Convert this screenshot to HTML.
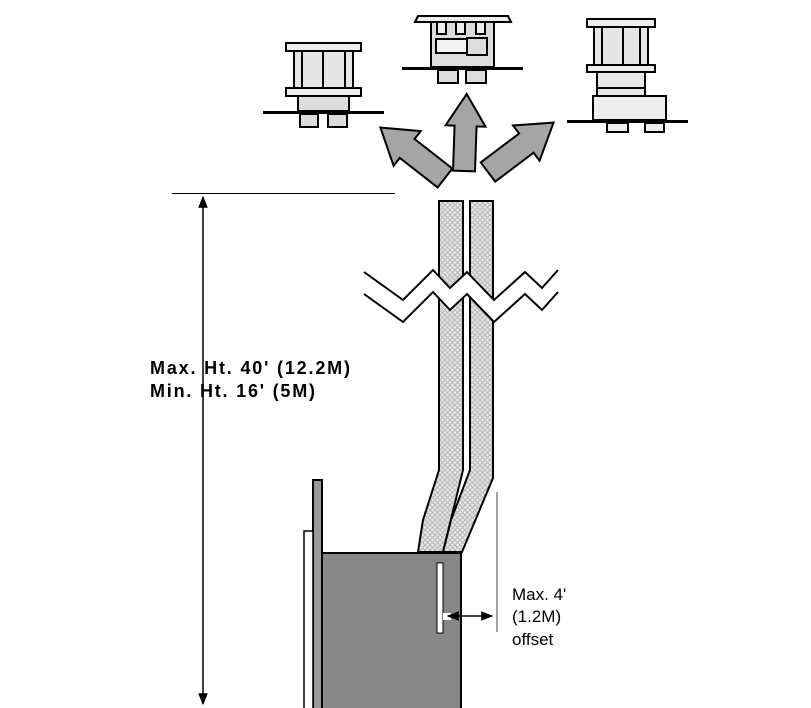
<!DOCTYPE html>
<html><head><meta charset="utf-8"><style>body{margin:0;background:#fff}svg{display:block}</style></head><body>
<svg width="811" height="708" viewBox="0 0 811 708" xmlns="http://www.w3.org/2000/svg">
<defs>
<pattern id="hx" width="5" height="5" patternUnits="userSpaceOnUse">
<rect width="5" height="5" fill="#e8e8e8"/><path d="M0 0L5 5M5 0L0 5" stroke="#b8b8b8" stroke-width="1"/>
</pattern>
<marker id="ah" viewBox="0 0 10 10" refX="9" refY="5" markerWidth="8" markerHeight="8" orient="auto-start-reverse"><path d="M0 1L10 5L0 9z" fill="#000"/></marker>
</defs>
<g stroke="#000" stroke-width="2">
<rect x="286" y="43" width="75" height="8" fill="#eee"/>
<rect x="294" y="51" width="59" height="37" fill="#e6e6e6"/>
<line x1="302" y1="51" x2="302" y2="88"/><line x1="323" y1="51" x2="323" y2="88"/><line x1="345" y1="51" x2="345" y2="88"/>
<rect x="286" y="88" width="75" height="8" fill="#eee"/>
<rect x="298" y="96" width="51" height="15" fill="#ddd"/>
<rect x="300" y="114" width="18" height="13" fill="#ddd"/><rect x="328" y="114" width="19" height="13" fill="#ddd"/>
<line x1="263" y1="112.5" x2="384" y2="112.5" stroke-width="3"/>
<rect x="431" y="22" width="63" height="45" fill="#ddd"/>
<polygon points="418,16 508,16 511,22 415,22" fill="#eee"/>
<rect x="437" y="22" width="9" height="12" fill="#eee"/><rect x="456" y="22" width="9" height="12" fill="#eee"/><rect x="476" y="22" width="9" height="12" fill="#eee"/>
<rect x="436" y="39" width="31" height="14" fill="#f4f4f4"/>
<rect x="467" y="38" width="20" height="17" fill="#ddd"/>
<rect x="438" y="70" width="20" height="13" fill="#ddd"/><rect x="466" y="70" width="20" height="13" fill="#ddd"/>
<line x1="402" y1="68.5" x2="523" y2="68.5" stroke-width="3"/>
<rect x="587" y="19" width="68" height="8" fill="#eee"/>
<rect x="594" y="27" width="54" height="38" fill="#e6e6e6"/>
<line x1="602" y1="27" x2="602" y2="65"/><line x1="623" y1="27" x2="623" y2="65"/><line x1="640" y1="27" x2="640" y2="65"/>
<rect x="587" y="65" width="68" height="7" fill="#eee"/>
<rect x="597" y="72" width="48" height="24" fill="#e6e6e6"/>
<line x1="597" y1="88" x2="645" y2="88"/>
<rect x="593" y="96" width="73" height="24" fill="#eee"/>
<rect x="607" y="123" width="21" height="9" fill="#eee"/><rect x="645" y="123" width="19" height="9" fill="#eee"/>
<line x1="567" y1="121.5" x2="688" y2="121.5" stroke-width="3"/>
<g fill="#a5a5a5" stroke-linejoin="miter">
<polygon points="-11,0 -11,-45 -20,-45 0,-77 20,-45 11,-45 11,0" transform="translate(464,171) rotate(2)"/>
<polygon points="-12,0 -12,-48 -22,-48 0,-82 22,-48 12,-48 12,0" transform="translate(445,178) rotate(-52)"/>
<polygon points="-12,0 -12,-48 -22,-48 0,-82 22,-48 12,-48 12,0" transform="translate(488,172) rotate(53)"/>
</g>
</g>
<line x1="172" y1="193.5" x2="395" y2="193.5" stroke="#000" stroke-width="1"/>
<line x1="203" y1="197" x2="203" y2="704" stroke="#000" stroke-width="1.5" marker-start="url(#ah)" marker-end="url(#ah)"/>
<g stroke="#000" stroke-width="2" fill="url(#hx)">
<path d="M439 201H463V470L443 552H418L423 520L439 470Z"/>
<path d="M470 201H493V478L462 552H443L451 520L470 470Z"/>
</g>
<polygon points="364,272 403,300 433,270 450,288 467,272 494,300 525,272 542,288 558,270 558,292 542,310 525,294 494,322 467,294 450,310 433,292 403,322 364,294" fill="#fff"/>
<g fill="none" stroke="#000" stroke-width="2">
<polyline points="364,272 403,300 433,270 450,288 467,272 494,300 525,272 542,288 558,270"/>
<polyline points="364,294 403,322 433,292 450,310 467,294 494,322 525,294 542,310 558,292"/>
</g>
<rect x="313" y="480" width="9" height="230" fill="#999" stroke="#000" stroke-width="2"/>
<rect x="304" y="531" width="9" height="180" fill="#fff" stroke="#000" stroke-width="1.5"/>
<rect x="322" y="553" width="139" height="160" fill="#888" stroke="#000" stroke-width="2"/>
<rect x="437" y="563" width="6" height="70" fill="#fff" stroke="#000" stroke-width="1"/>
<rect x="443" y="613" width="8" height="7" fill="#fff"/>
<line x1="448" y1="616" x2="492" y2="616" stroke="#000" stroke-width="1.5" marker-start="url(#ah)" marker-end="url(#ah)"/>
<line x1="497" y1="492" x2="497" y2="632" stroke="#444" stroke-width="1"/>
<g font-family="Liberation Sans, sans-serif" fill="#000">
<text x="150" y="374" font-size="18" font-weight="bold" textLength="200" lengthAdjust="spacing">Max. Ht. 40' (12.2M)</text>
<text x="150" y="397" font-size="18" font-weight="bold" textLength="165" lengthAdjust="spacing">Min. Ht. 16' (5M)</text>
<text x="512" y="600" font-size="17">Max. 4'</text>
<text x="512" y="622" font-size="17">(1.2M)</text>
<text x="512" y="645" font-size="17">offset</text>
</g>
</svg>
</body></html>
